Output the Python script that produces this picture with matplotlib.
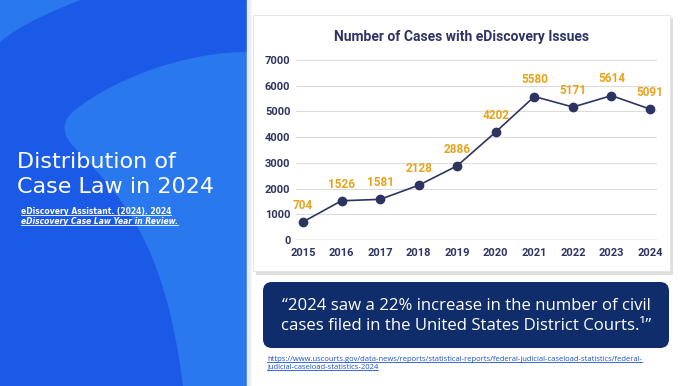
import matplotlib
matplotlib.use("Agg")
import matplotlib.pyplot as plt
from matplotlib.patches import Rectangle, FancyBboxPatch, PathPatch
from matplotlib.path import Path

# data
years = [2015, 2016, 2017, 2018, 2019, 2020, 2021, 2022, 2023, 2024]
cases = [704, 1526, 1581, 2128, 2886, 4202, 5580, 5171, 5614, 5091]
y_ticks = [0, 1000, 2000, 3000, 4000, 5000, 6000, 7000]

chart_title = "Number of Cases with eDiscovery Issues"
slide_title = ["Distribution of", "Case Law in 2024"]
citation = ["eDiscovery Assistant. (2024). 2024", "eDiscovery Case Law Year in Review."]
quote = ["\u201c2024 saw a 22% increase in the number of civil",
         "cases filed in the United States District Courts.\u00b9\u201d"]
link = ["https://www.uscourts.gov/data-news/reports/statistical-reports/federal-judicial-caseload-statistics/federal-",
        "judicial-caseload-statistics-2024"]

W, H = 687, 386
dark_blue = "#1b5ae6"
light_blue = "#2a78ee"
navy = "#2e3462"
gold = "#e8a31c"

fig = plt.figure(figsize=(W / 100, H / 100), dpi=100)
fig.patch.set_facecolor("white")

# background layer in pixel coords (y down)
bg = fig.add_axes([0, 0, 1, 1])
bg.set_xlim(0, W)
bg.set_ylim(H, 0)
bg.axis("off")

bg.add_patch(Rectangle((0, 0), 247, H, color=dark_blue, zorder=0))
# light corner top-left
P = Path.MOVETO; C = Path.CURVE4; L = Path.LINETO; Z = Path.CLOSEPOLY
corner = Path([(0, 0), (80, 0), (50, 12), (20, 25), (0, 42), (0, 0)],
              [P, L, C, C, C, Z])
bg.add_patch(PathPatch(corner, color=light_blue, lw=0, zorder=1))
# big light shape
shape = Path([(247, 52), (190, 52), (120, 75), (75, 110),
              (60, 122), (62, 135), (75, 148),
              (120, 195), (165, 240), (183, 386),
              (247, 386), (247, 52)],
             [P, C, C, C, C, C, C, C, C, C, L, Z])
bg.add_patch(PathPatch(shape, color=light_blue, lw=0, zorder=1))
bg.add_patch(Rectangle((247, 0), 3, H, color="#e9ecf2", zorder=1))

# slide title
for i, line in enumerate(slide_title):
    bg.text(17, 168 + i * 25, line, color="white", fontsize=16,
            family="DejaVu Sans", va="baseline", ha="left", zorder=3)

fig.canvas.draw()
r = fig.canvas.get_renderer()


def underlined(x, y, s, color, size, family="Open Sans", weight="normal", style="normal"):
    t = bg.text(x, y, s, color=color, fontsize=size, family=family,
                weight=weight, style=style, va="baseline", ha="left", zorder=3)
    bb = t.get_window_extent(renderer=r)
    bg.plot([x, x + bb.width], [y + 1.3, y + 1.3], color=color, lw=0.6, zorder=3)


underlined(21, 214, citation[0], "white", 5.5, family="DejaVu Sans", weight="bold")
underlined(21, 224, citation[1], "white", 5.5, family="DejaVu Sans", weight="bold",
           style="italic")

# chart card with shadow
bg.add_patch(Rectangle((256, 18), 417, 257, color="#c9c9c9", alpha=0.6, lw=0, zorder=1))
bg.add_patch(Rectangle((253, 15), 417, 256, facecolor="white", edgecolor="#e3e3e3",
                       lw=0.6, zorder=2))
bg.text(461, 37, chart_title, color=navy, fontsize=10, weight="bold",
        family="Roboto", ha="center", va="center", zorder=3)

# quote box
bg.add_patch(FancyBboxPatch((263, 282), 406, 66, boxstyle="round,pad=0,rounding_size=9",
                            facecolor="#0f2c6b", edgecolor="none", zorder=2))
for i, line in enumerate(quote):
    bg.text(466, 306 + i * 20, line, color="white", fontsize=12.1,
            family="Open Sans", ha="center", va="center", zorder=3)

underlined(267, 361, link[0], "#1a4fd0", 5.5)
underlined(267, 369, link[1], "#1a4fd0", 5.5)

# line chart
ax = fig.add_axes([296 / W, 1 - 240 / H, (657 - 296) / W, (240 - 60) / H])
ax.set_facecolor("none")
ax.plot(years, cases, color=navy, lw=1.2, marker="o", markersize=6,
        zorder=3, clip_on=False)
for x, v in zip(years, cases):
    ax.annotate(str(v), (x, v), xytext=(0, 12), textcoords="offset points",
                ha="center", va="center", color=gold, fontsize=8.5,
                weight="bold", family="Roboto")
ax.set_xlim(2014.82, 2024.18)
ax.set_ylim(0, 7000)
ax.set_xticks(years)
ax.set_yticks(y_ticks)
ax.tick_params(length=0, labelsize=8, labelcolor=navy)
ax.tick_params(axis="x", pad=6)
ax.tick_params(axis="y", pad=4)
for lab in ax.get_xticklabels() + ax.get_yticklabels():
    lab.set_fontweight("bold")
    lab.set_family("Roboto")
ax.grid(axis="y", color="#dcdcdc", lw=0.8)
ax.set_axisbelow(True)
for s in ax.spines.values():
    s.set_visible(False)
ax.axhline(0, color="#b5b5b5", lw=1, zorder=1)

fig.savefig("out.png", dpi=100)
